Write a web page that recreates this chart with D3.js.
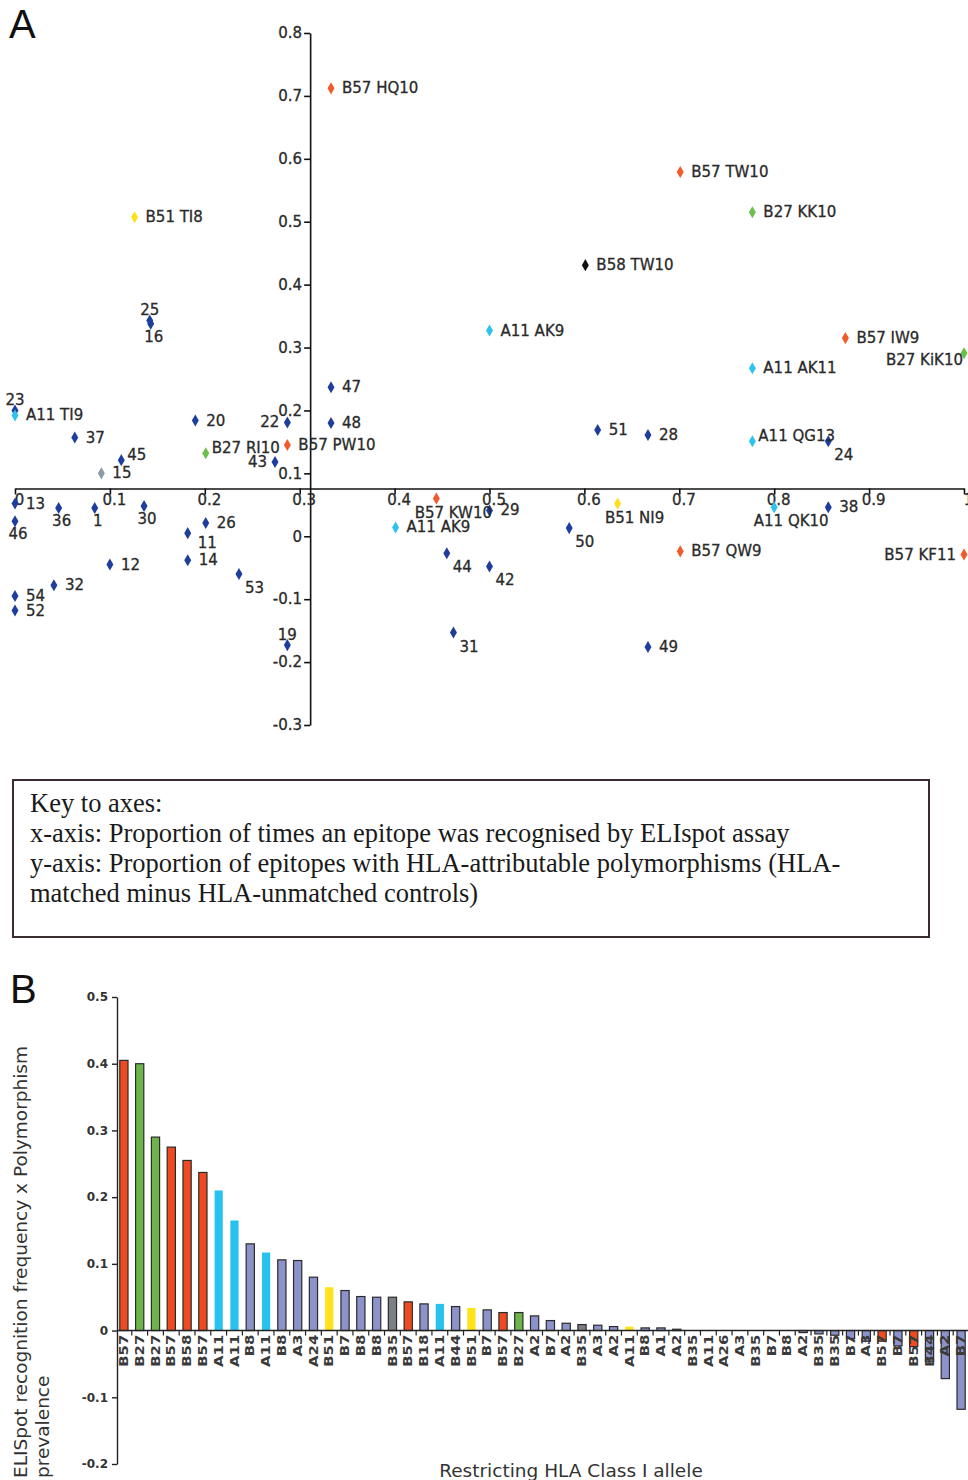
<!DOCTYPE html>
<html>
<head>
<meta charset="utf-8">
<script src="https://cdn.jsdelivr.net/npm/d3@7/dist/d3.min.js"></script>
<style>
  html, body { margin: 0; padding: 0; background: #fff; }
  svg { display: block; }
</style>
</head>
<body>
<svg id="chart" width="968" height="1480"></svg>
<script>
// ---------------- Panel A data ----------------
const xTicksA = [0, 0.1, 0.2, 0.3, 0.4, 0.5, 0.6, 0.7, 0.8, 0.9, 1];
const yTicksA = [-0.3, -0.2, -0.1, 0, 0.1, 0.2, 0.3, 0.4, 0.5, 0.6, 0.7, 0.8];
const pointLabels = ["B57 HQ10","B57 TW10","B27 KK10","B51 TI8","B58 TW10","A11 AK9","B57 IW9","B27 KiK10","A11 AK11",
  "25","16","47","48","23","A11 TI9","37","20","22","B57 PW10","B27 RI10","43","45","15","51","28","A11 QG13","24",
  "13","36","1","30","46","26","11","14","12","53","32","54","52","19","B57 KW10","29","A11 AK9","44","42","31","50",
  "B51 NI9","A11 QK10","38","B57 QW9","B57 KF11","49"];
const pointX = [0.333,0.701,0.777,0.126,0.601,0.500,0.875,1.000,0.777,
  0.142,0.143,0.333,0.333,0.000,0.000,0.063,0.190,0.287,0.287,0.201,0.274,0.112,0.091,0.614,0.667,0.777,0.857,
  0.000,0.046,0.084,0.136,0.000,0.201,0.182,0.182,0.100,0.236,0.041,0.000,0.000,0.287,0.444,0.500,0.401,0.455,0.500,0.462,0.584,
  0.635,0.800,0.857,0.701,1.000,0.667];
const pointY = [0.712,0.579,0.515,0.507,0.431,0.327,0.315,0.291,0.267,
  0.343,0.338,0.237,0.180,0.200,0.192,0.157,0.184,0.181,0.145,0.132,0.118,0.121,0.100,0.169,0.161,0.151,0.151,
  0.052,0.045,0.045,0.048,0.024,0.021,0.005,-0.038,-0.045,-0.060,-0.078,-0.095,-0.118,-0.173,0.060,0.041,0.014,-0.027,-0.048,-0.153,0.013,
  0.052,0.046,0.046,-0.024,-0.029,-0.176];
// allele group: O=B57, G=B27, Y=B51, K=B58, C=A11, N=other, R=grey
const pointGroup = ["O","O","G","Y","K","C","O","G","C",
  "N","N","N","N","N","C","N","N","N","O","G","N","N","R","N","N","C","N",
  "N","N","N","N","N","N","N","N","N","N","N","N","N","N","O","N","C","N","N","N","N",
  "Y","C","N","O","O","N"];
// label placement relative to marker
const labelPlace = ["r","r","r","r","r","r","r","lb","r",
  "a","b","r","r","a","r","r","r","l","r","ru","l","ru","r","r","r","ru","br",
  "r","b","b","b","b","r","bs","r","r","br","r","r","r","a","bw","r","r","br","br","br","br",
  "bw","bw","r","r","l","r"];

// ---------------- Panel B data ----------------
const alleles = ["B57","B27","B27","B57","B58","B57","A11","A11","B8","A11","B8","A3","A24","B51","B7","B8","B8","B35",
  "B57","B18","A11","B44","B51","B7","B57","B27","A2","B7","A2","B35","A3","A2","A11","B8","A1","A2",
  "B35","A11","A26","A3","B35","B7","B8","A2","B35","B35","B7","A3","B57","B7","B57","B44","A2","B7"];
const barValues = [0.405,0.400,0.290,0.275,0.255,0.237,0.210,0.165,0.130,0.117,0.106,0.105,0.080,0.065,0.060,0.051,0.050,0.050,
  0.043,0.040,0.040,0.036,0.034,0.031,0.027,0.027,0.022,0.015,0.011,0.009,0.008,0.006,0.006,0.004,0.004,0.002,
  0,0,0,0,0,0,0,-0.003,-0.005,-0.007,-0.012,-0.016,-0.016,-0.023,-0.024,-0.046,-0.072,-0.118];
const barGroup = ["O","G","G","O","O","O","C","C","S","C","S","S","S","Y","S","S","S","R",
  "O","S","C","S","Y","S","O","G","S","S","S","R","S","S","Y","S","S","S",
  "S","S","S","S","S","S","S","S","S","S","S","S","O","S","O","S","S","S"];
const yTicksB = [-0.2, -0.1, 0, 0.1, 0.2, 0.3, 0.4, 0.5];

// ---------------- styles ----------------
const pointColor = {O:"#f15a2b", G:"#6cbf4a", Y:"#ffdf1b", K:"#111111", C:"#2cc3ef", N:"#1f3d9c", R:"#8c9aa6"};
const barColor = {O:"#ee4b22", G:"#6db54b", Y:"#ffe21a", C:"#27c2ee", S:"#8c93cb", R:"#7d7f86"};
const sansFont = "'DejaVu Sans', Verdana, sans-serif";
const txt = "#2a2a2a";

const svg = d3.select("#chart");

// ================= PANEL A =================
const xA = d3.scaleLinear().domain([0, 1]).range([15, 964]);
const yA = d3.scaleLinear().domain([-0.3, 0.8]).range([725, 33]);
const fmt = v => (v === 0 ? "0" : (Math.abs(v - 1) < 1e-9 ? "1" : (v < 0 ? "-" : "") + Math.abs(v).toFixed(1)));

svg.append("text").attr("x", 9).attr("y", 38).text("A")
  .attr("font-family", "'Liberation Sans', Arial, sans-serif").attr("font-size", 40).attr("fill", "#111");

const gA = svg.append("g");
// y axis crossing at x = 0.311
const yAx = gA.append("g").attr("transform", `translate(${xA(0.311)},0)`)
  .call(d3.axisLeft(yA).tickValues(yTicksA).tickSize(6).tickPadding(2).tickSizeOuter(0).tickFormat(fmt));
// x axis crossing at y = 0.076
const xAx = gA.append("g").attr("transform", `translate(0,${yA(0.076)})`)
  .call(d3.axisBottom(xA).tickValues(xTicksA).tickSize(6).tickPadding(0).tickSizeOuter(0).tickFormat(fmt));
[yAx, xAx].forEach(g => {
  g.selectAll("path,line").attr("stroke", "#111").attr("stroke-width", 1.6);
  g.selectAll("text").attr("font-family", sansFont).attr("font-size", 15).attr("fill", txt)
    .attr("stroke", txt).attr("stroke-width", 0.3);
});
xAx.selectAll("text").attr("dx", 4);

// points
const pts = d3.range(pointLabels.length).map(i => ({
  label: pointLabels[i], x: pointX[i], y: pointY[i], g: pointGroup[i], p: labelPlace[i]
}));
const diamond = d3.symbol().type(d3.symbolDiamond).size(42);
gA.selectAll("path.pt").data(pts).join("path").attr("class", "pt")
  .attr("transform", d => `translate(${xA(d.x)},${yA(d.y)})`)
  .attr("d", diamond).attr("fill", d => pointColor[d.g]);

const place = {
  r:  {dx: 11, dy: 5, a: "start"},
  ru: {dx: 6, dy: 0, a: "start"},
  l:  {dx: -8, dy: 5, a: "end"},
  a:  {dx: 0, dy: -5, a: "middle"},
  b:  {dx: 3, dy: 18, a: "middle"},
  bw: {dx: 17, dy: 19, a: "middle"},
  br: {dx: 6, dy: 19, a: "start"},
  bs: {dx: 10, dy: 15, a: "start"},
  lb: {dx: -1, dy: 12, a: "end"}
};
gA.selectAll("text.pl").data(pts).join("text").attr("class", "pl")
  .attr("x", d => xA(d.x) + place[d.p].dx)
  .attr("y", d => yA(d.y) + place[d.p].dy)
  .attr("text-anchor", d => place[d.p].a)
  .attr("font-family", sansFont).attr("font-size", 15).attr("fill", txt)
  .attr("stroke", txt).attr("stroke-width", 0.3)
  .text(d => d.label);

// key box
const key = svg.append("g");
key.append("rect").attr("x", 13).attr("y", 780).attr("width", 916).attr("height", 157)
  .attr("fill", "#fff").attr("stroke", "#3a2c2c").attr("stroke-width", 2);
const keyLines = ["Key to axes:",
  "x-axis: Proportion of times an epitope was recognised by ELIspot assay",
  "y-axis: Proportion of epitopes with HLA-attributable polymorphisms (HLA-",
  "matched minus HLA-unmatched controls)"];
key.selectAll("text").data(keyLines).join("text")
  .attr("x", 30).attr("y", (d, i) => 812 + i * 30)
  .attr("font-family", "'Liberation Serif', 'Times New Roman', serif").attr("font-size", 26.5).attr("fill", "#1a1a1a")
  .text(d => d);

// ================= PANEL B =================
svg.append("text").attr("x", 10).attr("y", 1003).text("B")
  .attr("font-family", "'Liberation Sans', Arial, sans-serif").attr("font-size", 40).attr("fill", "#111");

const xB = d3.scaleBand().domain(d3.range(alleles.length)).range([116, 969]).paddingInner(0.48).paddingOuter(0.24);
const yB = d3.scaleLinear().domain([-0.2, 0.5]).range([1464, 997]);
const gB = svg.append("g");

// bars
gB.selectAll("rect.bar").data(barValues).join("rect").attr("class", "bar")
  .attr("x", (d, i) => xB(i))
  .attr("width", xB.bandwidth())
  .attr("y", d => yB(Math.max(0, d)))
  .attr("height", d => Math.abs(yB(d) - yB(0)))
  .attr("fill", (d, i) => barColor[barGroup[i]])
  .attr("stroke", (d, i) => (barGroup[i] === "C" || barGroup[i] === "Y") ? "none" : "#2b2b2b")
  .attr("stroke-width", 1.2);

// y axis
const yBx = gB.append("g").attr("transform", `translate(117,0)`)
  .call(d3.axisLeft(yB).tickValues(yTicksB).tickSize(5).tickPadding(4).tickSizeOuter(0).tickFormat(fmt));
yBx.selectAll("path,line").attr("stroke", "#222").attr("stroke-width", 1.4);
yBx.selectAll("text").attr("font-family", sansFont).attr("font-size", 12).attr("font-weight", "bold").attr("fill", "#333");

// x axis line at zero with ticks between categories
const y0 = yB(0);
gB.append("line").attr("x1", 117).attr("x2", 968).attr("y1", y0).attr("y2", y0)
  .attr("stroke", "#222").attr("stroke-width", 1.4);
const step = xB.step();
gB.selectAll("line.tk").data(d3.range(1, alleles.length + 1)).join("line").attr("class", "tk")
  .attr("x1", k => xB(0) - xB.paddingOuter() * step + k * step)
  .attr("x2", k => xB(0) - xB.paddingOuter() * step + k * step)
  .attr("y1", y0).attr("y2", y0 + 5).attr("stroke", "#222").attr("stroke-width", 1.2);

// category labels
gB.selectAll("text.cat").data(alleles).join("text").attr("class", "cat")
  .attr("transform", (d, i) => `translate(${xB(i) + xB.bandwidth() / 2},${y0 + 4}) rotate(-90) scale(1.3,1)`)
  .attr("text-anchor", "end").attr("dy", "0.36em")
  .attr("font-family", sansFont).attr("font-size", 11.5).attr("font-weight", "bold").attr("fill", "#3a3a3a")
  .text(d => d);

// axis titles
svg.append("text").attr("transform", "translate(27,1478) rotate(-90)")
  .attr("font-family", sansFont).attr("font-size", 18.5).attr("fill", "#333")
  .text("ELISpot recognition frequency x Polymorphism");
svg.append("text").attr("transform", "translate(49,1478) rotate(-90)")
  .attr("font-family", sansFont).attr("font-size", 18.5).attr("fill", "#333")
  .text("prevalence");
svg.append("text").attr("x", 571).attr("y", 1477).attr("text-anchor", "middle")
  .attr("font-family", sansFont).attr("font-size", 18.5).attr("fill", "#333")
  .text("Restricting HLA Class I allele");
</script>
</body>
</html>
